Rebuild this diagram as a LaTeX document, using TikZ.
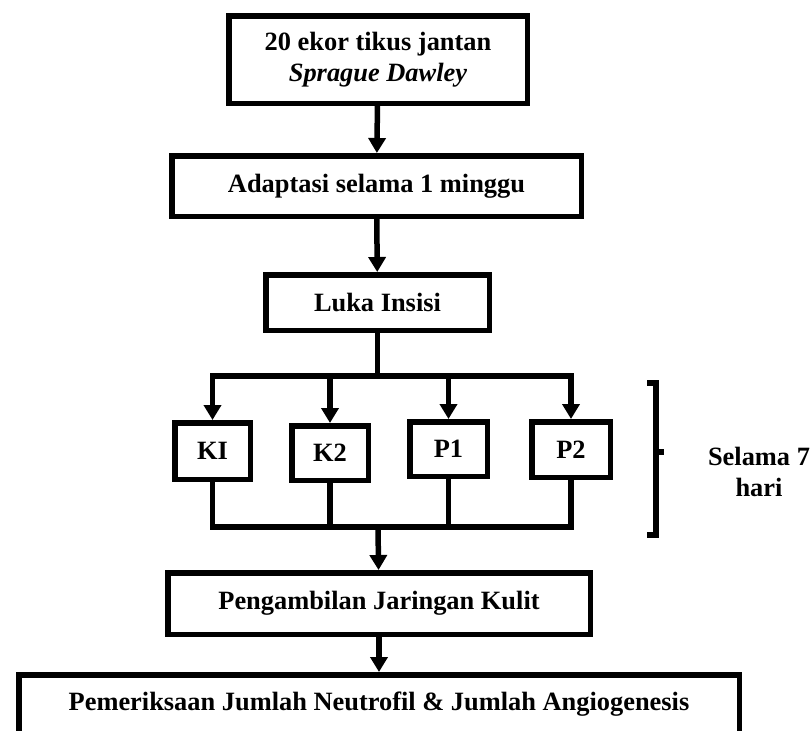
\documentclass[tikz,border=0pt]{standalone}
\usepackage{fontspec}
\setmainfont{Liberation Serif}
\usetikzlibrary{arrows.meta, positioning}

\begin{document}
\begin{tikzpicture}[x=1pt, y=-1pt,
    every node/.style={font=\fontsize{26.4}{31}\selectfont\bfseries},
    flowbox/.style={draw, line width=5.5pt, fill=white, align=center, inner sep=0pt},
    link/.style={line width=5.5pt},
    linkarr/.style={line width=5.5pt, -{Triangle[width=17pt,length=15pt]}}]
  \useasboundingbox (0,0) rectangle (812,731);
  \clip (0,0) rectangle (812,731);

  % Main column
  \node[flowbox, minimum width=298.5pt, minimum height=87.5pt]
    (tikus) at (378,59.5) {20 ekor tikus jantan\\\textit{Sprague Dawley}};
  \node[flowbox, minimum width=409.5pt, minimum height=60.5pt]
    (adapt) at (376.5,186) {Adaptasi selama 1 minggu};
  \node[flowbox, minimum width=223.5pt, minimum height=55.5pt]
    (luka) at (377.5,302.5) {Luka Insisi};
  \draw[linkarr] (tikus) -- (adapt);
  \draw[linkarr] (adapt) -- (luka);

  % Treatment groups
  \node[flowbox, minimum width=75.5pt, minimum height=56.5pt] (ki) at (212.5,451) {KI};
  \node[flowbox, minimum width=76.5pt, minimum height=54.5pt] (k2) at (330,453) {K2};
  \node[flowbox, minimum width=77.5pt, minimum height=54.5pt] (p1) at (448.5,449) {P1};
  \node[flowbox, minimum width=78.5pt, minimum height=55.5pt] (p2) at (571,449.5) {P2};

  % Split from Luka Insisi
  \coordinate (split) at (377.5,376);
  \draw[link] (luka) -- (split);
  \draw[linkarr] (split) -| (ki);
  \draw[linkarr] (split) -| (p2);
  \draw[linkarr] (split -| k2) -- (k2);
  \draw[linkarr] (split -| p1) -- (p1);

  % Join below the groups
  \coordinate (join) at (378,527);
  \draw[link] (ki.south) |- (join -| p2) -- (p2.south);
  \draw[link] (k2) -- (k2 |- join);
  \draw[link] (p1) -- (p1 |- join);

  % Bracket: Selama 7 hari
  \draw[link] (647,383) -| (656,535) -- (647,535);
  \draw[link] (656,452) -- (664,452);
  \node[align=center] (hari) at (759,472) {Selama 7\\hari};

  % Bottom boxes
  \node[flowbox, minimum width=422.5pt, minimum height=61.5pt]
    (jaringan) at (379,603.5) {Pengambilan Jaringan Kulit};
  \node[flowbox, anchor=north, minimum width=720.5pt, text height=35.25pt,
        text depth=40pt] (periksa) at (379,672)
    {Pemeriksaan Jumlah Neutrofil \& Jumlah Angiogenesis};
  \draw[linkarr] (join) -- (jaringan);
  \draw[linkarr] (jaringan) -- (periksa);
\end{tikzpicture}
\end{document}
